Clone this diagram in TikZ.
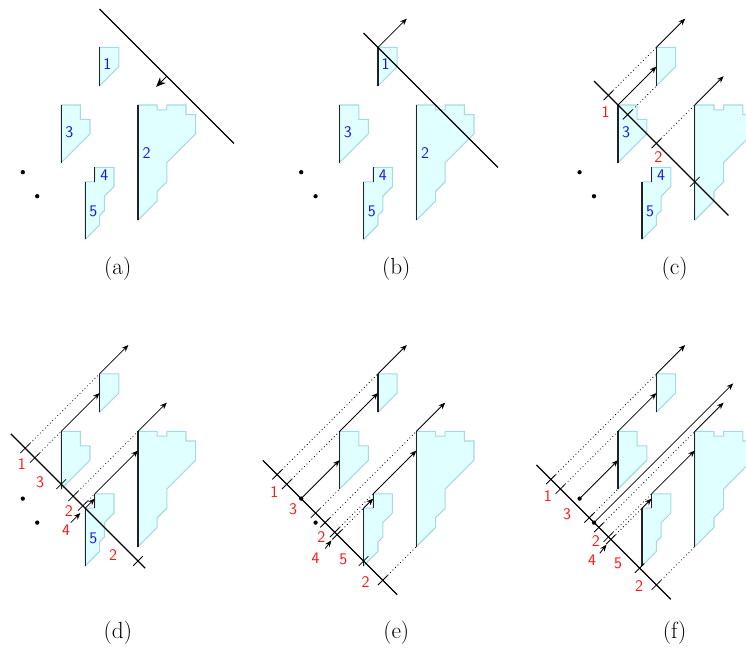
\documentclass[tikz,border=0pt]{standalone}
\usepackage{tikz}
\usetikzlibrary{arrows.meta}
\definecolor{PolyFill}{HTML}{E0FFFF}
\definecolor{PolyEdge}{HTML}{A8D8E4}
\definecolor{SegLine}{HTML}{222222}
\definecolor{TagBlue}{HTML}{1414F0}
\definecolor{TagRed}{HTML}{FF1414}
\tikzset{
    poly/.style={fill=PolyFill, draw=PolyEdge, line width=0.8pt},
    segline/.style={draw=SegLine, line width=0.8pt},
    sweepline/.style={draw=black, line width=0.9pt},
    rayarrow/.style={-{Stealth[length=5pt,width=4pt]}, line width=0.6pt},
    sweeparrow/.style={-{Stealth[length=7pt,width=6pt]}, line width=0.6pt},
    projline/.style={dotted, line width=0.6pt},
    tickmark/.style={line width=0.6pt},
    segtag/.style={font=\sffamily\large, text=TagBlue, inner sep=0pt},
    stattag/.style={font=\sffamily\large, text=TagRed, inner sep=0pt},
    caption/.style={font=\LARGE, inner sep=0pt},
}
% the polygons with their vertical segments and the two points
\newcommand{\polyscene}{%
    \filldraw[poly] (-4,-6) -- (-2,-6) -- (-2,-4) -- (-4,-2) -- cycle;
    \filldraw[poly] (-8,0) -- (-6,0) -- (-6,1.5) -- (-5,1.5) -- (-5,3) -- (-8,6) -- cycle;
    \filldraw[poly] (0,0) -- (2,0) -- (2,0.5) -- (3,0.5) -- (3,0) -- (5,0) -- (5,1) -- (6,1)
        -- (6,3) -- (3,6) -- (3,8) -- (2,9) -- (2,10) -- (0,12) -- cycle;
    \filldraw[poly] (-5.5,8) -- (-4.5,8) -- (-4.5,6.5) -- (-2.5,6.5) -- (-2.5,8.5) -- (-3.5,9.5)
        -- (-3.5,11) -- (-4,11.5) -- (-4,12.5) -- (-5.5,14) -- cycle;
    \draw[segline] (-4,-6) -- (-4,-2);
    \draw[segline] (-8,0) -- (-8,6);
    \draw[segline] (0,0) -- (0,12);
    \draw[segline] (-4.5,6.5) -- (-4.5,8);
    \draw[segline] (-5.5,8) -- (-5.5,14);
}
\newcommand{\crosstick}[1]{\draw[tickmark] (#1) ++(-0.5,0.5) -- ++(1,-1);}
\newcommand{\projdot}[2]{\draw[projline] (#1) -- (#2); \crosstick{#1}}
\newcommand{\ptmark}[1]{\fill (#1) circle (1.6pt);}

\begin{document}
\begin{tikzpicture}[x=0.25cm, y=-0.25cm]
    \useasboundingbox (-14.375,-10.9375) rectangle (63.333,56.979);

    % (a) start
    \begin{scope}
        \polyscene
        \ptmark{-12,7} \ptmark{-10.5,9.5}
        \node[segtag] (s1a) at (-3.2,-4.3) {1};
        \node[segtag] (s2a) at (0.9,5) {2};
        \node[segtag] (s3a) at (-7.15,2.8) {3};
        \node[segtag] (s4a) at (-3.5,7.3) {4};
        \node[segtag] (s5a) at (-4.65,11.1) {5};
        \draw[sweepline] (-4,-10) -- (10,4);
        \draw[sweeparrow] (3,-3) -- (1.9,-1.9);
        \node[caption] (capa) at (-2.1,17) {(a)};
    \end{scope}

    % (b) line reaches segment 1
    \begin{scope}[shift={(29,0)}]
        \polyscene
        \ptmark{-12,7} \ptmark{-10.5,9.5}
        \node[segtag] (s1b) at (-3.2,-4.3) {1};
        \node[segtag] (s2b) at (0.9,5) {2};
        \node[segtag] (s3b) at (-7.15,2.8) {3};
        \node[segtag] (s4b) at (-3.5,7.3) {4};
        \node[segtag] (s5b) at (-4.65,11.1) {5};
        \draw[sweepline] (-5.5,-7.5) -- (8.5,6.5);
        \draw[rayarrow] (-4,-6) -- (-1,-9);
        \node[caption] (capb) at (-2.1,17) {(b)};
    \end{scope}

    % (c) line reaches segment 3
    \begin{scope}[shift={(58,0)}]
        \polyscene
        \ptmark{-12,7} \ptmark{-10.5,9.5}
        \node[segtag] (s3c) at (-7.15,2.8) {3};
        \node[segtag] (s4c) at (-3.5,7.3) {4};
        \node[segtag] (s5c) at (-4.65,11.1) {5};
        \draw[sweepline] (-10.5,-2.5) -- (3.5,11.5);
        \projdot{-9,-1}{-4,-6}
        \projdot{-7,1}{-4,-2}
        \projdot{-4,4}{0,0}
        \crosstick{0,8}
        \draw[rayarrow] (-4,-6) -- (-1,-9);
        \draw[rayarrow] (-8,0) -- (-4,-4);
        \draw[rayarrow] (0,0) -- (3,-3);
        \node[stattag] (r1c) at (-9.3,0.7) {1};
        \node[stattag] (r2c) at (-3.8,5.4) {2};
        \node[caption] (capc) at (-2.1,17) {(c)};
    \end{scope}

    % (d) line reaches segment 5
    \begin{scope}[shift={(0,34)}]
        \polyscene
        \ptmark{-12,7} \ptmark{-10.5,9.5}
        \node[segtag] (s5d) at (-4.65,11.1) {5};
        \draw[sweepline] (-13.25,0.25) -- (0.75,14.25);
        \projdot{-11.75,1.75}{-4,-6}
        \projdot{-10.75,2.75}{-8,0}
        \projdot{-6.75,6.75}{0,0}
        \projdot{-5.75,7.75}{-4.5,6.5}
        \crosstick{-8,5.5}
        \crosstick{0,13.5}
        \draw[rayarrow] (-4,-6) -- (-1,-9);
        \draw[rayarrow] (-8,0) -- (-4,-4);
        \draw[rayarrow] (0,0) -- (3,-3);
        \draw[rayarrow] (-4.5,6.5) -- (0,2);
        \draw[rayarrow] (-5.5,8) -- (-4.5,7);
        \draw[rayarrow] (-7,9.5) -- (-6,8.5);
        \node[stattag] (r1d) at (-12.1,3.4) {1};
        \node[stattag] (r3d) at (-10.2,5.3) {3};
        \node[stattag] (r2d) at (-7.2,8.3) {2};
        \node[stattag] (r4d) at (-7.5,10.3) {4};
        \node[stattag] (r6d) at (-2.6,12.9) {2};
        \node[caption] (capd) at (-2.1,21) {(d)};
    \end{scope}

    % (e) line reaches the upper point
    \begin{scope}[shift={(29,34)}]
        \polyscene
        \ptmark{-12,7} \ptmark{-10.5,9.5}
        \draw[sweepline] (-16,3) -- (-2,17);
        \projdot{-14.5,4.5}{-4,-6}
        \projdot{-13.5,5.5}{-8,0}
        \projdot{-10.5,8.5}{-8,6}
        \projdot{-9.5,9.5}{0,0}
        \projdot{-8.5,10.5}{-4.5,6.5}
        \projdot{-8.25,10.75}{-5.5,8}
        \projdot{-3.5,15.5}{0,12}
        \crosstick{-5.5,13.5}
        \draw[rayarrow] (-4,-6) -- (-1,-9);
        \draw[rayarrow] (-8,0) -- (-4,-4);
        \draw[rayarrow] (0,0) -- (3,-3);
        \draw[rayarrow] (-4.5,6.5) -- (0,2);
        \draw[rayarrow] (-5.5,8) -- (-4.5,7);
        \draw[rayarrow] (-12,7) -- (-8,3);
        \draw[rayarrow] (-9.5,12.2) -- (-8.85,11.35);
        \node[stattag] (r1e) at (-14.8,6.3) {1};
        \node[stattag] (r3e) at (-12.85,8.1) {3};
        \node[stattag] (r2e) at (-9.9,11) {2};
        \node[stattag] (r4e) at (-10.5,13.2) {4};
        \node[stattag] (r5e) at (-7.6,13.3) {5};
        \node[stattag] (r6e) at (-5.3,15.7) {2};
        \node[caption] (cape) at (-2.1,21) {(e)};
    \end{scope}

    % (f) line reaches the lower point
    \begin{scope}[shift={(58,34)}]
        \polyscene
        \ptmark{-12,7} \ptmark{-10.5,9.5}
        \draw[sweepline] (-16.5,3.5) -- (-2.5,17.5);
        \projdot{-15,5}{-4,-6}
        \projdot{-14,6}{-8,0}
        \projdot{-11,9}{-8,6}
        \projdot{-10,10}{0,0}
        \projdot{-9,11}{-4.5,6.5}
        \projdot{-8.75,11.25}{-5.5,8}
        \projdot{-5.75,14.25}{-5.5,14}
        \projdot{-4,16}{0,12}
        \draw[rayarrow] (-4,-6) -- (-1,-9);
        \draw[rayarrow] (-8,0) -- (-4,-4);
        \draw[rayarrow] (0,0) -- (3,-3);
        \draw[rayarrow] (-4.5,6.5) -- (0,2);
        \draw[rayarrow] (-5.5,8) -- (-4.5,7);
        \draw[rayarrow] (-12,7) -- (-8,3);
        \draw[rayarrow] (-10.5,9.5) -- (4,-5);
        \draw[rayarrow] (-9.9,12.7) -- (-9.2,11.8);
        \node[stattag] (r1f) at (-15.3,6.7) {1};
        \node[stattag] (r3f) at (-13.3,8.6) {3};
        \node[stattag] (r2f) at (-10.3,11.4) {2};
        \node[stattag] (r4f) at (-10.7,13.4) {4};
        \node[stattag] (r5f) at (-8,13.7) {5};
        \node[stattag] (r6f) at (-5.8,16.1) {2};
        \node[caption] (capf) at (-2.1,21) {(f)};
    \end{scope}
\end{tikzpicture}
\end{document}
